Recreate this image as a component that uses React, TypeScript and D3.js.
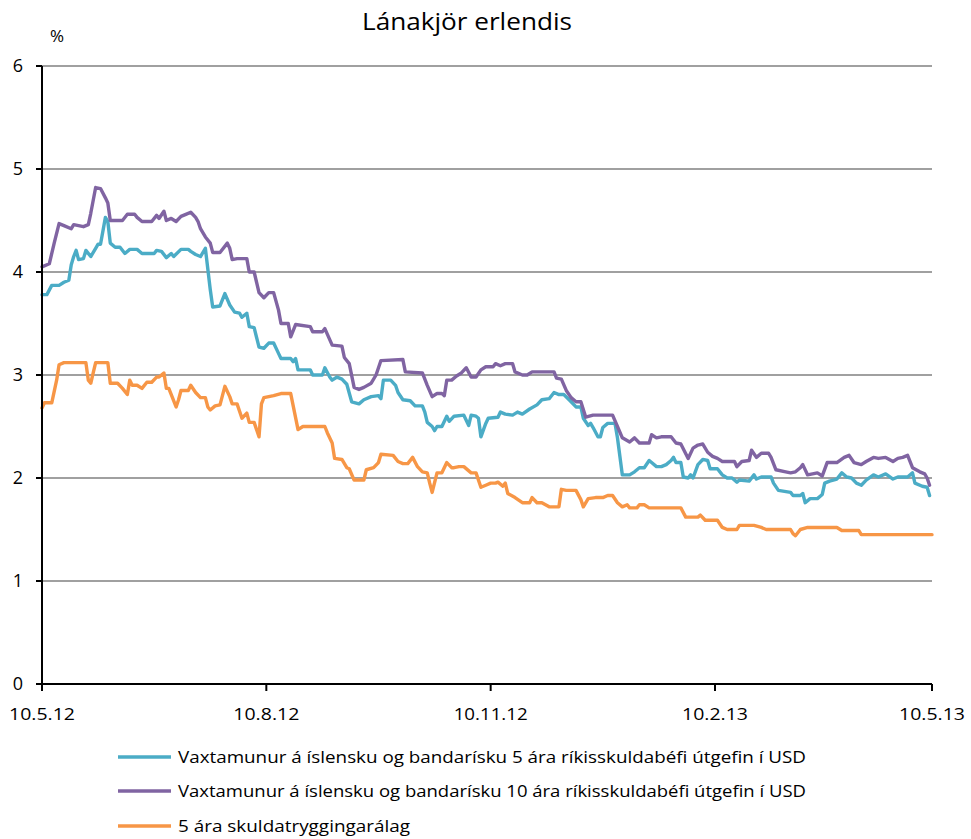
import React from "react";
import * as d3 from "d3";

const TITLE = "Lánakjör erlendis";
const UNIT = "%";
const Y_TICKS = [0, 1, 2, 3, 4, 5, 6];
const X_TICKS = ["10.5.12", "10.8.12", "10.11.12", "10.2.13", "10.5.13"];

const SERIES_NAMES = [
  "Vaxtamunur á íslensku og bandarísku 5 ára ríkisskuldabéfi útgefin í USD",
  "Vaxtamunur á íslensku og bandarísku 10 ára ríkisskuldabéfi útgefin í USD",
  "5 ára skuldatryggingarálag",
];
const SERIES_COLORS = ["#4bacc6", "#8064a2", "#f79646"];

const spread5: [string, number][] = [
  ["10.5.12", 3.78], ["12.5.12", 3.78], ["14.5.12", 3.87], ["17.5.12", 3.87], ["19.5.12", 3.9],
  ["21.5.12", 3.92], ["22.5.12", 4.07], ["23.5.12", 4.15], ["24.5.12", 4.21], ["25.5.12", 4.12],
  ["27.5.12", 4.13], ["28.5.12", 4.21], ["30.5.12", 4.15], ["1.6.12", 4.23], ["2.6.12", 4.27],
  ["3.6.12", 4.27], ["5.6.12", 4.53], ["6.6.12", 4.49], ["7.6.12", 4.28], ["9.6.12", 4.24],
  ["11.6.12", 4.24], ["13.6.12", 4.18], ["15.6.12", 4.22], ["18.6.12", 4.22], ["20.6.12", 4.18],
  ["25.6.12", 4.18], ["26.6.12", 4.21], ["28.6.12", 4.2], ["30.6.12", 4.14], ["2.7.12", 4.18],
  ["3.7.12", 4.15], ["6.7.12", 4.22], ["9.7.12", 4.22], ["10.7.12", 4.2], ["12.7.12", 4.17],
  ["14.7.12", 4.15], ["16.7.12", 4.23], ["18.7.12", 3.83], ["19.7.12", 3.66], ["22.7.12", 3.67],
  ["24.7.12", 3.79], ["26.7.12", 3.68], ["28.7.12", 3.61], ["30.7.12", 3.6], ["31.7.12", 3.56],
  ["2.8.12", 3.6], ["3.8.12", 3.47], ["5.8.12", 3.46], ["7.8.12", 3.27], ["9.8.12", 3.26],
  ["11.8.12", 3.31], ["13.8.12", 3.31], ["15.8.12", 3.21], ["16.8.12", 3.16], ["20.8.12", 3.16],
  ["21.8.12", 3.13], ["22.8.12", 3.16], ["23.8.12", 3.05], ["28.8.12", 3.05], ["29.8.12", 3.0],
  ["2.9.12", 3.0], ["3.9.12", 3.07], ["5.9.12", 2.98], ["6.9.12", 2.95], ["8.9.12", 2.98],
  ["10.9.12", 2.96], ["12.9.12", 2.91], ["14.9.12", 2.74], ["17.9.12", 2.72], ["19.9.12", 2.76],
  ["22.9.12", 2.79], ["25.9.12", 2.8], ["26.9.12", 2.77], ["27.9.12", 2.95], ["30.9.12", 2.95],
  ["2.10.12", 2.9], ["3.10.12", 2.83], ["5.10.12", 2.76], ["8.10.12", 2.75], ["10.10.12", 2.7],
  ["13.10.12", 2.7], ["14.10.12", 2.64], ["15.10.12", 2.54], ["17.10.12", 2.5], ["18.10.12", 2.46],
  ["19.10.12", 2.5], ["21.10.12", 2.5], ["23.10.12", 2.6], ["24.10.12", 2.55], ["26.10.12", 2.6],
  ["30.10.12", 2.61], ["1.11.12", 2.51], ["2.11.12", 2.61], ["4.11.12", 2.6], ["5.11.12", 2.58],
  ["6.11.12", 2.4], ["8.11.12", 2.53], ["9.11.12", 2.58], ["13.11.12", 2.59], ["14.11.12", 2.64],
  ["16.11.12", 2.62], ["19.11.12", 2.61], ["21.11.12", 2.64], ["23.11.12", 2.62], ["26.11.12", 2.67],
  ["29.11.12", 2.71], ["1.12.12", 2.76], ["4.12.12", 2.77], ["6.12.12", 2.83], ["8.12.12", 2.81],
  ["10.12.12", 2.81], ["13.12.12", 2.74], ["15.12.12", 2.69], ["17.12.12", 2.69], ["18.12.12", 2.58],
  ["20.12.12", 2.51], ["21.12.12", 2.53], ["22.12.12", 2.49], ["24.12.12", 2.4], ["25.12.12", 2.4],
  ["26.12.12", 2.49], ["28.12.12", 2.53], ["31.12.12", 2.53], ["1.1.13", 2.39], ["3.1.13", 2.03],
  ["6.1.13", 2.03], ["8.1.13", 2.06], ["10.1.13", 2.1], ["12.1.13", 2.1], ["14.1.13", 2.17],
  ["15.1.13", 2.15], ["17.1.13", 2.11], ["19.1.13", 2.11], ["21.1.13", 2.13], ["23.1.13", 2.17],
  ["24.1.13", 2.2], ["25.1.13", 2.15], ["27.1.13", 2.15], ["28.1.13", 2.01], ["30.1.13", 2.0],
  ["31.1.13", 2.03], ["1.2.13", 2.0], ["3.2.13", 2.13], ["5.2.13", 2.18], ["7.2.13", 2.17],
  ["8.2.13", 2.09], ["11.2.13", 2.09], ["13.2.13", 2.03], ["15.2.13", 2.0], ["17.2.13", 2.0],
  ["19.2.13", 1.96], ["20.2.13", 1.98], ["24.2.13", 1.97], ["26.2.13", 2.03], ["27.2.13", 1.99],
  ["1.3.13", 2.01], ["5.3.13", 2.01], ["6.3.13", 1.95], ["8.3.13", 1.88], ["13.3.13", 1.86],
  ["14.3.13", 1.83], ["17.3.13", 1.83], ["18.3.13", 1.85], ["19.3.13", 1.76], ["21.3.13", 1.8],
  ["24.3.13", 1.8], ["26.3.13", 1.84], ["27.3.13", 1.95], ["29.3.13", 1.97], ["1.4.13", 1.99],
  ["3.4.13", 2.05], ["5.4.13", 2.01], ["7.4.13", 2.0], ["9.4.13", 1.95], ["11.4.13", 1.93],
  ["13.4.13", 1.98], ["16.4.13", 2.03], ["18.4.13", 2.01], ["21.4.13", 2.04], ["24.4.13", 1.99],
  ["26.4.13", 2.01], ["30.4.13", 2.01], ["2.5.13", 2.05], ["3.5.13", 1.95], ["6.5.13", 1.92],
  ["8.5.13", 1.91], ["9.5.13", 1.83],
];

const spread10: [string, number][] = [
  ["10.5.12", 4.05], ["13.5.12", 4.08], ["15.5.12", 4.28], ["17.5.12", 4.47], ["19.5.12", 4.45],
  ["22.5.12", 4.42], ["23.5.12", 4.46], ["27.5.12", 4.44], ["29.5.12", 4.46], ["30.5.12", 4.57],
  ["1.6.12", 4.82], ["3.6.12", 4.81], ["5.6.12", 4.72], ["6.6.12", 4.67], ["7.6.12", 4.5],
  ["12.6.12", 4.5], ["14.6.12", 4.56], ["17.6.12", 4.56], ["18.6.12", 4.53], ["20.6.12", 4.49],
  ["24.6.12", 4.49], ["26.6.12", 4.55], ["27.6.12", 4.52], ["29.6.12", 4.59], ["30.6.12", 4.5],
  ["2.7.12", 4.52], ["4.7.12", 4.49], ["6.7.12", 4.54], ["8.7.12", 4.56], ["10.7.12", 4.58],
  ["12.7.12", 4.53], ["13.7.12", 4.49], ["14.7.12", 4.42], ["16.7.12", 4.34], ["18.7.12", 4.28],
  ["19.7.12", 4.19], ["22.7.12", 4.19], ["25.7.12", 4.28], ["26.7.12", 4.23], ["27.7.12", 4.12],
  ["29.7.12", 4.13], ["2.8.12", 4.13], ["3.8.12", 4.0], ["5.8.12", 4.0], ["7.8.12", 3.8],
  ["9.8.12", 3.75], ["11.8.12", 3.8], ["13.8.12", 3.8], ["15.8.12", 3.63], ["16.8.12", 3.5],
  ["19.8.12", 3.5], ["20.8.12", 3.37], ["22.8.12", 3.49], ["28.8.12", 3.47], ["29.8.12", 3.42],
  ["2.9.12", 3.42], ["3.9.12", 3.45], ["6.9.12", 3.29], ["10.9.12", 3.28], ["11.9.12", 3.17],
  ["13.9.12", 3.11], ["15.9.12", 2.88], ["17.9.12", 2.86], ["19.9.12", 2.88], ["22.9.12", 2.92],
  ["24.9.12", 3.0], ["26.9.12", 3.14], ["5.10.12", 3.15], ["6.10.12", 3.03], ["13.10.12", 3.02],
  ["15.10.12", 2.9], ["17.10.12", 2.79], ["19.10.12", 2.82], ["21.10.12", 2.82], ["22.10.12", 2.8],
  ["23.10.12", 2.95], ["25.10.12", 2.95], ["27.10.12", 2.99], ["29.10.12", 3.02], ["31.10.12", 3.07],
  ["2.11.12", 2.98], ["4.11.12", 2.98], ["6.11.12", 3.05], ["8.11.12", 3.08], ["11.11.12", 3.08],
  ["12.11.12", 3.11], ["14.11.12", 3.09], ["16.11.12", 3.11], ["19.11.12", 3.11], ["20.11.12", 3.03],
  ["23.11.12", 3.0], ["25.11.12", 3.0], ["27.11.12", 3.03], ["6.12.12", 3.03], ["7.12.12", 2.97],
  ["9.12.12", 2.96], ["11.12.12", 2.85], ["13.12.12", 2.78], ["15.12.12", 2.74], ["17.12.12", 2.74],
  ["19.12.12", 2.59], ["22.12.12", 2.61], ["30.12.12", 2.61], ["1.1.13", 2.5], ["3.1.13", 2.39],
  ["6.1.13", 2.35], ["8.1.13", 2.39], ["10.1.13", 2.34], ["14.1.13", 2.34], ["15.1.13", 2.42],
  ["17.1.13", 2.39], ["19.1.13", 2.4], ["23.1.13", 2.4], ["25.1.13", 2.34], ["27.1.13", 2.33],
  ["30.1.13", 2.19], ["1.2.13", 2.29], ["3.2.13", 2.32], ["5.2.13", 2.33], ["7.2.13", 2.25],
  ["9.2.13", 2.21], ["11.2.13", 2.19], ["13.2.13", 2.16], ["18.2.13", 2.16], ["19.2.13", 2.11],
  ["21.2.13", 2.16], ["24.2.13", 2.17], ["25.2.13", 2.27], ["27.2.13", 2.2], ["1.3.13", 2.24],
  ["4.3.13", 2.24], ["5.3.13", 2.2], ["7.3.13", 2.08], ["11.3.13", 2.06], ["13.3.13", 2.05],
  ["15.3.13", 2.06], ["17.3.13", 2.1], ["18.3.13", 2.13], ["20.3.13", 2.03], ["24.3.13", 2.05],
  ["26.3.13", 2.02], ["28.3.13", 2.15], ["1.4.13", 2.15], ["4.4.13", 2.2], ["6.4.13", 2.22],
  ["8.4.13", 2.15], ["11.4.13", 2.13], ["13.4.13", 2.16], ["16.4.13", 2.2], ["18.4.13", 2.19],
  ["21.4.13", 2.2], ["24.4.13", 2.16], ["26.4.13", 2.19], ["28.4.13", 2.2], ["30.4.13", 2.22],
  ["2.5.13", 2.1], ["5.5.13", 2.06], ["7.5.13", 2.04], ["8.5.13", 2.0], ["9.5.13", 1.93],
];

const cds5: [string, number][] = [
  ["10.5.12", 2.68], ["11.5.12", 2.73], ["14.5.12", 2.73], ["16.5.12", 2.95], ["17.5.12", 3.1],
  ["19.5.12", 3.12], ["28.5.12", 3.12], ["29.5.12", 2.95], ["30.5.12", 2.92], ["31.5.12", 3.02],
  ["1.6.12", 3.12], ["6.6.12", 3.12], ["7.6.12", 2.92], ["10.6.12", 2.92], ["12.6.12", 2.87],
  ["14.6.12", 2.81], ["15.6.12", 2.95], ["16.6.12", 2.9], ["18.6.12", 2.9], ["20.6.12", 2.87],
  ["22.6.12", 2.93], ["24.6.12", 2.93], ["26.6.12", 2.98], ["27.6.12", 2.98], ["29.6.12", 3.02],
  ["30.6.12", 2.87], ["1.7.12", 2.87], ["4.7.12", 2.69], ["5.7.12", 2.76], ["6.7.12", 2.85],
  ["9.7.12", 2.85], ["10.7.12", 2.9], ["12.7.12", 2.83], ["14.7.12", 2.78], ["16.7.12", 2.78],
  ["17.7.12", 2.69], ["18.7.12", 2.66], ["20.7.12", 2.7], ["22.7.12", 2.71], ["24.7.12", 2.89],
  ["26.7.12", 2.79], ["27.7.12", 2.72], ["29.7.12", 2.72], ["31.7.12", 2.58], ["2.8.12", 2.63],
  ["3.8.12", 2.54], ["5.8.12", 2.54], ["7.8.12", 2.4], ["8.8.12", 2.72], ["9.8.12", 2.78],
  ["13.8.12", 2.8], ["16.8.12", 2.82], ["20.8.12", 2.82], ["23.8.12", 2.47], ["25.8.12", 2.5],
  ["3.9.12", 2.5], ["4.9.12", 2.44], ["6.9.12", 2.34], ["7.9.12", 2.19], ["10.9.12", 2.18],
  ["12.9.12", 2.1], ["13.9.12", 2.09], ["15.9.12", 1.98], ["19.9.12", 1.98], ["20.9.12", 2.08],
  ["23.9.12", 2.1], ["25.9.12", 2.15], ["26.9.12", 2.23], ["1.10.12", 2.22], ["3.10.12", 2.16],
  ["5.10.12", 2.14], ["7.10.12", 2.14], ["9.10.12", 2.2], ["11.10.12", 2.11], ["13.10.12", 2.06],
  ["15.10.12", 2.05], ["16.10.12", 1.95], ["17.10.12", 1.86], ["19.10.12", 2.05], ["21.10.12", 2.05],
  ["23.10.12", 2.15], ["25.10.12", 2.1], ["26.10.12", 2.1], ["28.10.12", 2.11], ["30.10.12", 2.11],
  ["2.11.12", 2.05], ["4.11.12", 2.05], ["6.11.12", 1.91], ["8.11.12", 1.93], ["10.11.12", 1.95],
  ["12.11.12", 1.95], ["13.11.12", 1.96], ["15.11.12", 1.92], ["16.11.12", 1.95], ["17.11.12", 1.85],
  ["20.11.12", 1.81], ["23.11.12", 1.76], ["26.11.12", 1.76], ["27.11.12", 1.81], ["29.11.12", 1.76],
  ["1.12.12", 1.76], ["4.12.12", 1.72], ["8.12.12", 1.72], ["9.12.12", 1.89], ["11.12.12", 1.88],
  ["15.12.12", 1.88], ["17.12.12", 1.79], ["18.12.12", 1.72], ["20.12.12", 1.8], ["23.12.12", 1.81],
  ["26.12.12", 1.81], ["28.12.12", 1.83], ["30.12.12", 1.83], ["1.1.13", 1.76], ["3.1.13", 1.72],
  ["5.1.13", 1.74], ["6.1.13", 1.71], ["9.1.13", 1.71], ["10.1.13", 1.74], ["12.1.13", 1.74],
  ["14.1.13", 1.71], ["27.1.13", 1.71], ["29.1.13", 1.62], ["3.2.13", 1.62], ["4.2.13", 1.64],
  ["6.2.13", 1.59], ["11.2.13", 1.59], ["13.2.13", 1.52], ["15.2.13", 1.5], ["19.2.13", 1.5],
  ["20.2.13", 1.54], ["26.2.13", 1.54], ["1.3.13", 1.52], ["3.3.13", 1.5], ["13.3.13", 1.5],
  ["14.3.13", 1.46], ["15.3.13", 1.44], ["17.3.13", 1.5], ["20.3.13", 1.52], ["1.4.13", 1.52],
  ["3.4.13", 1.49], ["10.4.13", 1.49], ["11.4.13", 1.45], ["10.5.13", 1.45],
];

const SERIES = [spread5, spread10, cds5];

const W = 971;
const H = 839;
const LEFT = 42;
const RIGHT = 932;
const TOP = 66;
const BOTTOM = 684;
const FONT = "'Open Sans', 'Noto Sans', sans-serif";

export default function App() {
  const parse = d3.timeParse("%d.%m.%y");
  const x = d3
    .scaleTime()
    .domain([parse(X_TICKS[0]) as Date, parse(X_TICKS[X_TICKS.length - 1]) as Date])
    .range([LEFT, RIGHT]);
  const y = d3.scaleLinear().domain([0, 6]).range([BOTTOM, TOP]);
  const line = d3
    .line<[string, number]>()
    .x((d) => x(parse(d[0]) as Date))
    .y((d) => y(d[1]));

  const legendY = [757, 791, 826];
  const legendWidths = [628, 628, 232];

  return (
    <svg width={W} height={H} style={{ position: "absolute", left: 0, top: 0, background: "#fff" }}>
      <rect x={0} y={0} width={W} height={H} fill="#fff" />
      <text x={467} y={30} textAnchor="middle" fontFamily={FONT} fontSize={23} fill="#000"
        textLength={210} lengthAdjust="spacingAndGlyphs">
        {TITLE}
      </text>
      <text x={50} y={42} fontFamily={FONT} fontSize={17} fill="#000">{UNIT}</text>

      {Y_TICKS.filter((t) => t > 0).map((t) => (
        <line key={"g" + t} x1={LEFT} x2={RIGHT} y1={y(t)} y2={y(t)} stroke="#a0a0a0" strokeWidth={2} />
      ))}

      {SERIES.map((s, i) => (
        <path key={"s" + i} d={line(s) || ""} fill="none" stroke={SERIES_COLORS[i]}
          strokeWidth={3.4} strokeLinejoin="round" strokeLinecap="round" />
      ))}

      <line x1={LEFT} x2={LEFT} y1={TOP} y2={BOTTOM} stroke="#000" strokeWidth={2} />
      {Y_TICKS.map((t) => (
        <g key={"y" + t}>
          <line x1={LEFT - 6} x2={LEFT} y1={y(t)} y2={y(t)} stroke="#000" strokeWidth={2} />
          <text x={23} y={y(t) + 6} textAnchor="end" fontFamily={FONT} fontSize={18} fill="#000">
            {t}
          </text>
        </g>
      ))}

      <line x1={LEFT} x2={RIGHT} y1={BOTTOM} y2={BOTTOM} stroke="#000" strokeWidth={2} />
      {X_TICKS.map((t) => {
        const px = x(parse(t) as Date);
        return (
          <g key={"x" + t}>
            <line x1={px} x2={px} y1={BOTTOM} y2={BOTTOM + 7} stroke="#000" strokeWidth={2} />
            <text x={px} y={720} textAnchor="middle" fontFamily={FONT} fontSize={17} fill="#000"
              textLength={t.length > 7 ? 74 : 66} lengthAdjust="spacingAndGlyphs">
              {t}
            </text>
          </g>
        );
      })}

      {SERIES_NAMES.map((n, i) => (
        <g key={"l" + i}>
          <line x1={118} x2={171} y1={legendY[i]} y2={legendY[i]} stroke={SERIES_COLORS[i]} strokeWidth={3.5} />
          <text x={178} y={legendY[i] + 6} fontFamily={FONT} fontSize={17} fill="#000"
            textLength={legendWidths[i]} lengthAdjust="spacingAndGlyphs">
            {n}
          </text>
        </g>
      ))}
    </svg>
  );
}
